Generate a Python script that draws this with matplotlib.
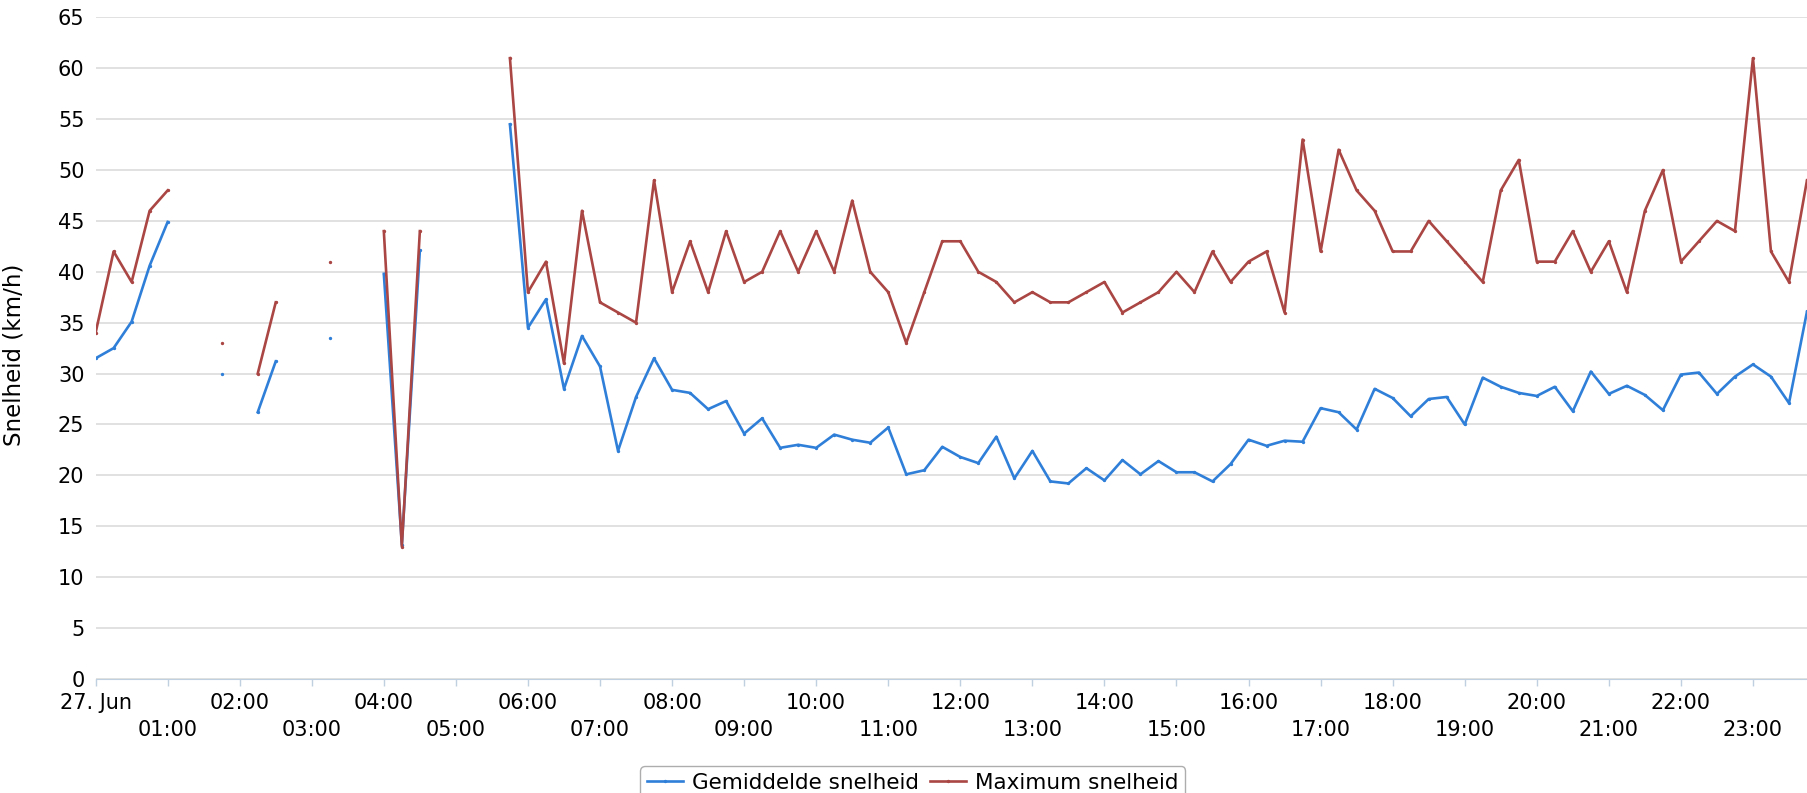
import matplotlib
matplotlib.use("Agg")
import matplotlib.pyplot as plt
import matplotlib.dates as mdates
import numpy as np
import pandas as pd

nan = np.nan

# kwartierwaarden op 27 juni, 00:00 t/m 23:45
tijden = pd.date_range("2013-06-27 00:00", periods=96, freq="15min")

gemiddeld = [
    31.5, 32.5, 35.1, 40.6, 44.9, nan, nan, 30.0,
    nan, 26.2, 31.2, nan, nan, 33.5, nan, nan,
    39.8, 13.2, 42.1, nan, nan, nan, nan, 54.5,
    34.5, 37.3, 28.5, 33.7, 30.7, 22.4, 27.7, 31.5,
    28.4, 28.1, 26.5, 27.3, 24.1, 25.6, 22.7, 23.0,
    22.7, 24.0, 23.5, 23.2, 24.7, 20.1, 20.5, 22.8,
    21.8, 21.2, 23.8, 19.7, 22.4, 19.4, 19.2, 20.7,
    19.5, 21.5, 20.1, 21.4, 20.3, 20.3, 19.4, 21.1,
    23.5, 22.9, 23.4, 23.3, 26.6, 26.2, 24.5, 28.5,
    27.6, 25.8, 27.5, 27.7, 25.0, 29.6, 28.7, 28.1,
    27.8, 28.7, 26.3, 30.2, 28.0, 28.8, 27.9, 26.4,
    29.9, 30.1, 28.0, 29.7, 30.9, 29.7, 27.1, 36.1,
]

maximum = [
    34, 42, 39, 46, 48, nan, nan, 33,
    nan, 30, 37, nan, nan, 41, nan, nan,
    44, 13, 44, nan, nan, nan, nan, 61,
    38, 41, 31, 46, 37, 36, 35, 49,
    38, 43, 38, 44, 39, 40, 44, 40,
    44, 40, 47, 40, 38, 33, 38, 43,
    43, 40, 39, 37, 38, 37, 37, 38,
    39, 36, 37, 38, 40, 38, 42, 39,
    41, 42, 36, 53, 42, 52, 48, 46,
    42, 42, 45, 43, 41, 39, 48, 51,
    41, 41, 44, 40, 43, 38, 46, 50,
    41, 43, 45, 44, 61, 42, 39, 49,
]

uren = pd.date_range("2013-06-27 00:00", periods=24, freq="1h")
uur_labels = ["27. Jun"] + [("\n" if h % 2 else "") + "%02d:00" % h for h in range(1, 24)]

blauw = "#2f7fd9"
rood = "#aa4643"

fig = plt.figure(figsize=(18.07, 7.93), dpi=100)
ax = fig.add_axes([0.0529, 0.144, 0.9471, 0.834])

ax.plot(tijden, gemiddeld, color=blauw, lw=1.9, marker="o", ms=1.4,
        label="Gemiddelde snelheid")
ax.plot(tijden, maximum, color=rood, lw=1.9, marker="o", ms=1.4,
        label="Maximum snelheid")

ax.set_xlim(tijden[0], tijden[-1])
ax.set_ylim(0, 65)
ax.set_yticks(range(0, 70, 5))
ax.grid(axis="y", color="#d8d8d8", lw=1.1)
ax.set_axisbelow(True)

ax.set_xticks(uren)
ax.set_xticklabels(uur_labels)
for t in ax.get_xticklabels():
    t.set_linespacing(1.45)

for s in ["top", "right", "left"]:
    ax.spines[s].set_visible(False)
ax.spines["bottom"].set_color("#c0d0e0")
ax.tick_params(axis="x", colors="#c0d0e0", length=5, width=1, pad=5,
               labelcolor="black", labelsize=15)
ax.tick_params(axis="y", length=0, pad=8, labelsize=15)

ax.set_ylabel("Snelheid (km/h)", fontsize=16.5)
ax.yaxis.set_label_coords(-0.041, 0.49)

leg = fig.legend(loc="upper center", bbox_to_anchor=(0.505, 0.047), ncol=2,
                 fontsize=15.5, frameon=True, fancybox=True, handlelength=1.7,
                 handletextpad=0.4, columnspacing=0.5, borderpad=0.3)
leg.get_frame().set_edgecolor("#999999")

fig.savefig("out.png", dpi=100)
